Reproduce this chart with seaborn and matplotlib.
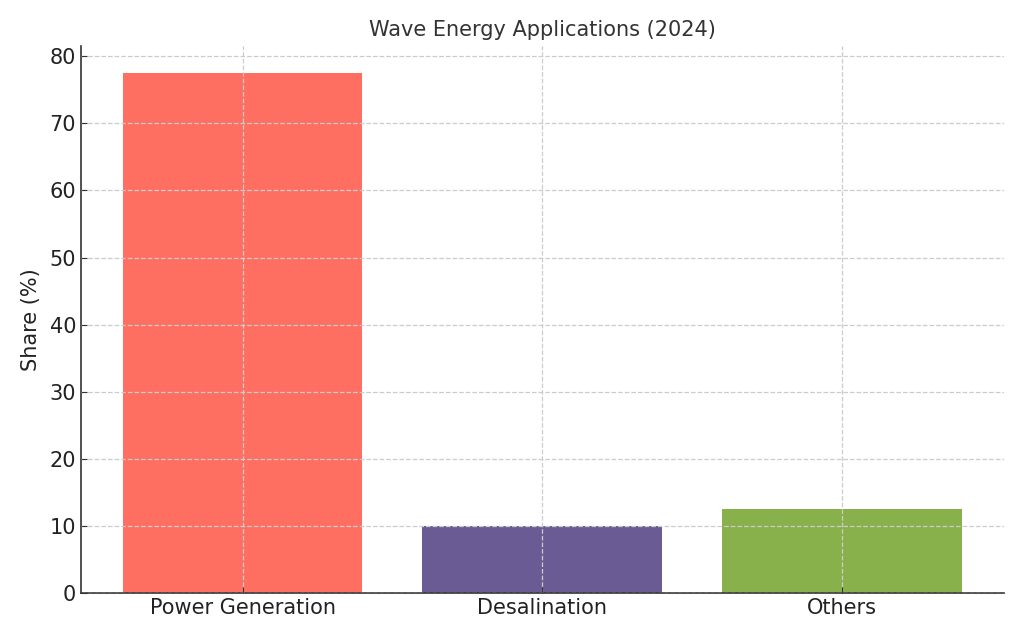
import seaborn as sns
import matplotlib.pyplot as plt

applications = ['Power Generation', 'Desalination', 'Others']
share = [77.5, 10.0, 12.5]
bar_colors = ['#FF6F61', '#6B5B95', '#88B04B']

sns.set_style('ticks')
plt.rcParams['font.family'] = ['DejaVu Sans']

fig = plt.figure(figsize=(10.24, 6.4), dpi=100)
ax = fig.add_axes([0.079, 0.073, 0.901, 0.855])

sns.barplot(x=applications, y=share, hue=applications, palette=bar_colors,
            width=0.8, saturation=1, legend=False, linewidth=0, ax=ax)
ax.set_xlim(-0.54, 2.54)
ax.set_ylim(0, 81.5)

ax.set_axisbelow(False)
ax.grid(True, linestyle='--', color='#cccccc', linewidth=0.9)
for s in ['top', 'right']:
    ax.spines[s].set_visible(False)
ax.spines['left'].set_color('#333333')
ax.spines['bottom'].set_color('#333333')
ax.spines['left'].set_linewidth(1.2)
ax.spines['bottom'].set_linewidth(1.2)
ax.tick_params(direction='in', length=4, labelsize=15, colors='#333333', labelcolor='#222222')

ax.set_title('Wave Energy Applications (2024)', fontsize=15, color='#333333', pad=7)
ax.set_ylabel('Share (%)', fontsize=15, color='#222222', labelpad=6)
ax.set_xlabel('')

fig.savefig('out.png', dpi=100)
